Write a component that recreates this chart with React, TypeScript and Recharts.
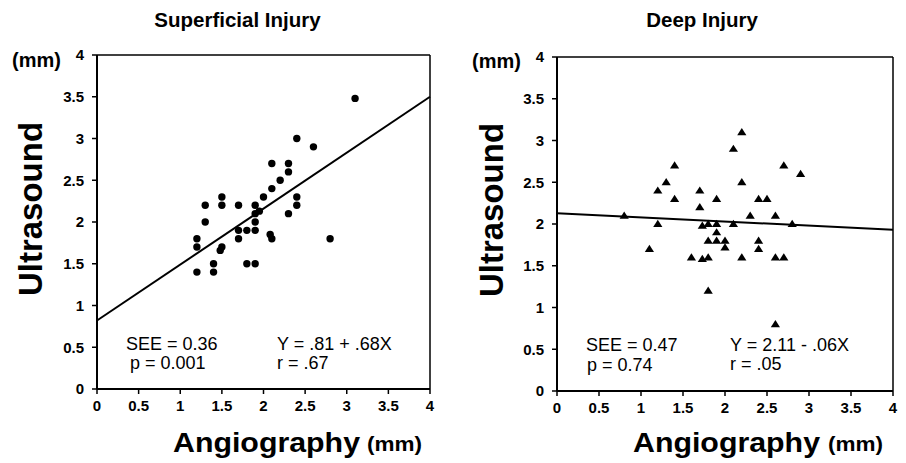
import React from 'react'
import { ScatterChart, Scatter, XAxis, YAxis, ReferenceLine } from 'recharts'

const FONT = '"Liberation Sans", Arial, Helvetica, sans-serif'

const axisTicks = [0, 0.5, 1, 1.5, 2, 2.5, 3, 3.5, 4]

// Superficial injury: angiography (x) vs ultrasound (y), mm
const superficialAngio = [
  3.1, 2.4, 2.6, 2.1, 2.3, 2.3, 2.2, 2.1, 2.0, 2.4, 2.4, 2.3, 1.3,
  1.5, 1.5, 1.7, 1.9, 1.9, 1.95, 1.3, 1.9, 1.7, 1.8, 1.9, 2.08, 2.1,
  1.7, 1.2, 1.2, 1.5, 1.48, 2.8, 1.4, 1.8, 1.9, 1.2, 1.4,
]
const superficialUltra = [
  3.48, 3.0, 2.9, 2.7, 2.7, 2.6, 2.5, 2.4, 2.3, 2.3, 2.2, 2.1, 2.2,
  2.3, 2.2, 2.2, 2.2, 2.1, 2.13, 2.0, 2.0, 1.9, 1.9, 1.9, 1.85, 1.8,
  1.8, 1.8, 1.7, 1.7, 1.66, 1.8, 1.5, 1.5, 1.5, 1.4, 1.4,
]
const superficialFitX = [0, 4]
const superficialFitY = [0.82, 3.5]

// Deep injury
const deepAngio = [
  2.2, 2.1, 1.4, 2.7, 2.9, 1.3, 2.2, 1.2, 1.7, 1.4, 1.9, 2.4, 2.5,
  1.7, 0.8, 2.3, 2.6, 1.2, 1.73, 1.8, 1.9, 2.1, 2.8, 1.9, 1.8, 1.9,
  2.0, 2.4, 1.1, 2.0, 2.4, 1.6, 1.73, 1.8, 2.2, 2.6, 2.7, 1.8, 2.6,
]
const deepUltra = [
  3.1, 2.9, 2.7, 2.7, 2.6, 2.5, 2.5, 2.4, 2.4, 2.3, 2.3, 2.3, 2.3,
  2.2, 2.1, 2.1, 2.1, 2.0, 1.98, 2.0, 2.0, 2.0, 2.0, 1.9, 1.8, 1.8,
  1.8, 1.8, 1.7, 1.72, 1.7, 1.6, 1.58, 1.6, 1.6, 1.6, 1.6, 1.2, 0.8,
]
const deepFitX = [0, 4]
const deepFitY = [2.13, 1.93]

const zip = (xs: number[], ys: number[]) => xs.map((x, i) => ({ x, y: ys[i] }))

const tickStyle = { fill: '#000', fontSize: 15, fontWeight: 700, fontFamily: FONT }

const Dot = (props: any) => <circle cx={props.cx} cy={props.cy} r={3.7} fill="#000" />

const Triangle = (props: any) => {
  const { cx, cy } = props
  return <polygon points={`${cx},${cy - 4.2} ${cx + 4.6},${cy + 3} ${cx - 4.6},${cy + 3}`} fill="#000" />
}

interface PanelProps {
  points: { x: number; y: number }[]
  fit: { x: number; y: number }[]
  shape: any
  margin: { top: number; right: number; bottom: number; left: number }
}

function Panel({ points, fit, shape, margin }: PanelProps) {
  return (
    <ScatterChart width={453} height={463} margin={margin}>
      <XAxis
        type="number"
        dataKey="x"
        domain={[0, 4]}
        ticks={axisTicks}
        interval={0}
        tickFormatter={(v: number) => String(v)}
        tickSize={5}
        tickMargin={6}
        height={30}
        axisLine={{ stroke: '#000', strokeWidth: 2 }}
        tickLine={{ stroke: '#000', strokeWidth: 1.5 }}
        tick={tickStyle}
        allowDataOverflow
      />
      <YAxis
        type="number"
        dataKey="y"
        domain={[0, 4]}
        ticks={axisTicks}
        interval={0}
        tickFormatter={(v: number) => String(v)}
        tickSize={5}
        tickMargin={8}
        width={40}
        axisLine={{ stroke: '#000', strokeWidth: 2 }}
        tickLine={{ stroke: '#000', strokeWidth: 1.5 }}
        tick={tickStyle}
        allowDataOverflow
      />
      <ReferenceLine y={4} stroke="#000" strokeWidth={1.3} />
      <ReferenceLine x={4} stroke="#000" strokeWidth={1.5} />
      <ReferenceLine segment={fit} stroke="#000" strokeWidth={2} />
      <Scatter data={points} shape={shape} isAnimationActive={false} />
    </ScatterChart>
  )
}

export default function App() {
  const label = { fontFamily: FONT, fill: '#000' }
  return (
    <div style={{ position: 'absolute', left: 0, top: 0, width: 906, height: 463, background: '#fff' }}>
      <div style={{ position: 'absolute', left: 0, top: 0 }}>
        <Panel
          points={zip(superficialAngio, superficialUltra)}
          fit={zip(superficialFitX, superficialFitY)}
          shape={Dot}
          margin={{ top: 55, right: 23, bottom: 44, left: 57 }}
        />
      </div>
      <div style={{ position: 'absolute', left: 453, top: 0 }}>
        <Panel
          points={zip(deepAngio, deepUltra)}
          fit={zip(deepFitX, deepFitY)}
          shape={Triangle}
          margin={{ top: 57, right: 13, bottom: 42, left: 64 }}
        />
      </div>
      <svg width={906} height={463} style={{ position: 'absolute', left: 0, top: 0, pointerEvents: 'none' }}>
        <g {...label} fontWeight="bold">
          <text x={237.5} y={27} textAnchor="middle" fontSize={20.5}>Superficial Injury</text>
          <text x={702} y={27} textAnchor="middle" fontSize={20.5}>Deep Injury</text>
          <text x={12} y={67} fontSize={20}>(mm)</text>
          <text x={472} y={68} fontSize={20}>(mm)</text>
          <text transform="translate(42,209) rotate(-90)" textAnchor="middle" fontSize={33}>Ultrasound</text>
          <text transform="translate(503,210) rotate(-90)" textAnchor="middle" fontSize={33}>Ultrasound</text>
          <text x={173} y={452} fontSize={28} textLength={187} lengthAdjust="spacingAndGlyphs">Angiography</text>
          <text x={367} y={451} fontSize={20} textLength={55} lengthAdjust="spacingAndGlyphs">(mm)</text>
          <text x={633} y={452} fontSize={28} textLength={187} lengthAdjust="spacingAndGlyphs">Angiography</text>
          <text x={828} y={451} fontSize={20} textLength={55} lengthAdjust="spacingAndGlyphs">(mm)</text>
        </g>
        <g {...label} fontSize={18}>
          <text x={126} y={350}>SEE = 0.36</text>
          <text x={130} y={369}>p = 0.001</text>
          <text x={277} y={350}>Y = .81 + .68X</text>
          <text x={277} y={369}>r = .67</text>
          <text x={586} y={351}>SEE = 0.47</text>
          <text x={587} y={371}>p = 0.74</text>
          <text x={730} y={351}>Y = 2.11 - .06X</text>
          <text x={730} y={370}>r = .05</text>
        </g>
      </svg>
    </div>
  )
}
